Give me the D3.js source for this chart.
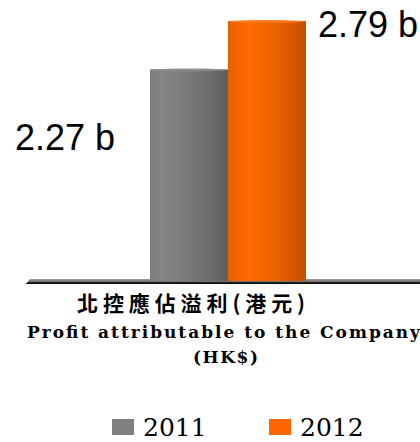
<!DOCTYPE html>
<html><head><meta charset="utf-8">
<script src="https://cdn.jsdelivr.net/npm/d3@7"></script>
<style>html,body{margin:0;padding:0;background:#fff;}svg{display:block;}</style>
</head><body>
<svg id="c" width="420" height="442"></svg>
<script>
const years = ["2011", "2012"];
const values = [2.27, 2.79];
const valueLabels = ["2.27 b", "2.79 b"];
const categoryLines = ["北控應佔溢利(港元)", "Profit attributable to the Company", "(HK$)"];
const colors = ["#808080", "#ff6600"];

const svg = d3.select("#c");
const defs = svg.append("defs");

const x = d3.scaleBand().domain(years).range([150, 306]).padding(0);
const y = d3.scaleLinear().domain([0, 3]).range([281, 1.4]);

const gradStops = [
  [["0%", "#7c7c7c"], ["15%", "#858585"], ["45%", "#7b7b7b"], ["80%", "#6a6a6a"], ["100%", "#5c5c5c"]],
  [["0%", "#e86000"], ["25%", "#ff6a00"], ["55%", "#f06400"], ["80%", "#dc5a00"], ["100%", "#c24f00"]]
];
years.forEach((yr, i) => {
  const g = defs.append("linearGradient").attr("id", "g" + i).attr("x1", "0").attr("x2", "1").attr("y1", "0").attr("y2", "0");
  gradStops[i].forEach(s => g.append("stop").attr("offset", s[0]).attr("stop-color", s[1]));
});
const fg = defs.append("linearGradient").attr("id", "floor").attr("x1", "0").attr("x2", "0").attr("y1", "0").attr("y2", "1");
[["0%", "#a0a0a0"], ["50%", "#707070"], ["70%", "#202020"], ["100%", "#000"]].forEach(s => fg.append("stop").attr("offset", s[0]).attr("stop-color", s[1]));

const y0 = y(0);
svg.append("path")
  .attr("d", `M26,${y0 + 3} L30,${y0 - 2} L420,${y0 - 2} L420,${y0 + 3} Z`)
  .attr("fill", "url(#floor)");
svg.append("line").attr("x1", 26).attr("x2", 420).attr("y1", y0 + 2.5).attr("y2", y0 + 2.5)
  .attr("stroke", "#111").attr("stroke-width", 1.2);

const data = years.map((yr, i) => ({ yr, v: values[i], i }));
svg.selectAll("rect.bar").data(data).join("rect")
  .attr("class", "bar")
  .attr("x", d => x(d.yr))
  .attr("y", d => y(d.v))
  .attr("width", x.bandwidth())
  .attr("height", d => y0 - y(d.v))
  .attr("fill", d => "url(#g" + d.i + ")");
svg.selectAll("ellipse.cap").data(data).join("ellipse")
  .attr("cx", d => x(d.yr) + x.bandwidth() / 2)
  .attr("cy", d => y(d.v) + 0.5)
  .attr("rx", x.bandwidth() / 2 - 1)
  .attr("ry", 1.5)
  .attr("fill", d => d.i === 0 ? "#8c8c8c" : "#ff7a1a")
  .attr("opacity", 0.9);

const labelPos = [
  { dx: -135, dy: 81 },
  { dx: 90, dy: 16 }
];
svg.selectAll("text.val").data(data).join("text")
  .attr("class", "val")
  .attr("x", d => x(d.yr) + labelPos[d.i].dx)
  .attr("y", d => y(d.v) + labelPos[d.i].dy)
  .attr("font-family", "Liberation Sans, Arial, sans-serif")
  .attr("font-size", 36)
  .attr("fill", "#000")
  .text(d => valueLabels[d.i]);

svg.append("text").attr("x", 77).attr("y", 311)
  .attr("font-family", "Noto Sans CJK TC, sans-serif").attr("font-weight", "bold").attr("font-size", 21)
  .attr("textLength", 228).attr("lengthAdjust", "spacing")
  .text(categoryLines[0]);
svg.append("text").attr("x", 27).attr("y", 338)
  .attr("font-family", "DejaVu Serif, serif").attr("font-weight", "bold").attr("font-size", 17)
  .attr("textLength", 393).attr("lengthAdjust", "spacing")
  .text(categoryLines[1]);
svg.append("text").attr("x", 193).attr("y", 363)
  .attr("font-family", "DejaVu Serif, serif").attr("font-weight", "bold").attr("font-size", 17)
  .attr("textLength", 65).attr("lengthAdjust", "spacing")
  .text(categoryLines[2]);

const legX = [112, 269];
const lg = svg.selectAll("g.leg").data(data).join("g").attr("class", "leg")
  .attr("transform", d => `translate(${legX[d.i]},419)`);
lg.append("rect").attr("width", 22).attr("height", 16).attr("fill", d => colors[d.i]);
lg.append("text").attr("x", 31).attr("y", 17)
  .attr("font-family", "DejaVu Serif, serif").attr("font-size", 25).attr("fill", "#000")
  .text(d => d.yr);
</script>
</body></html>
